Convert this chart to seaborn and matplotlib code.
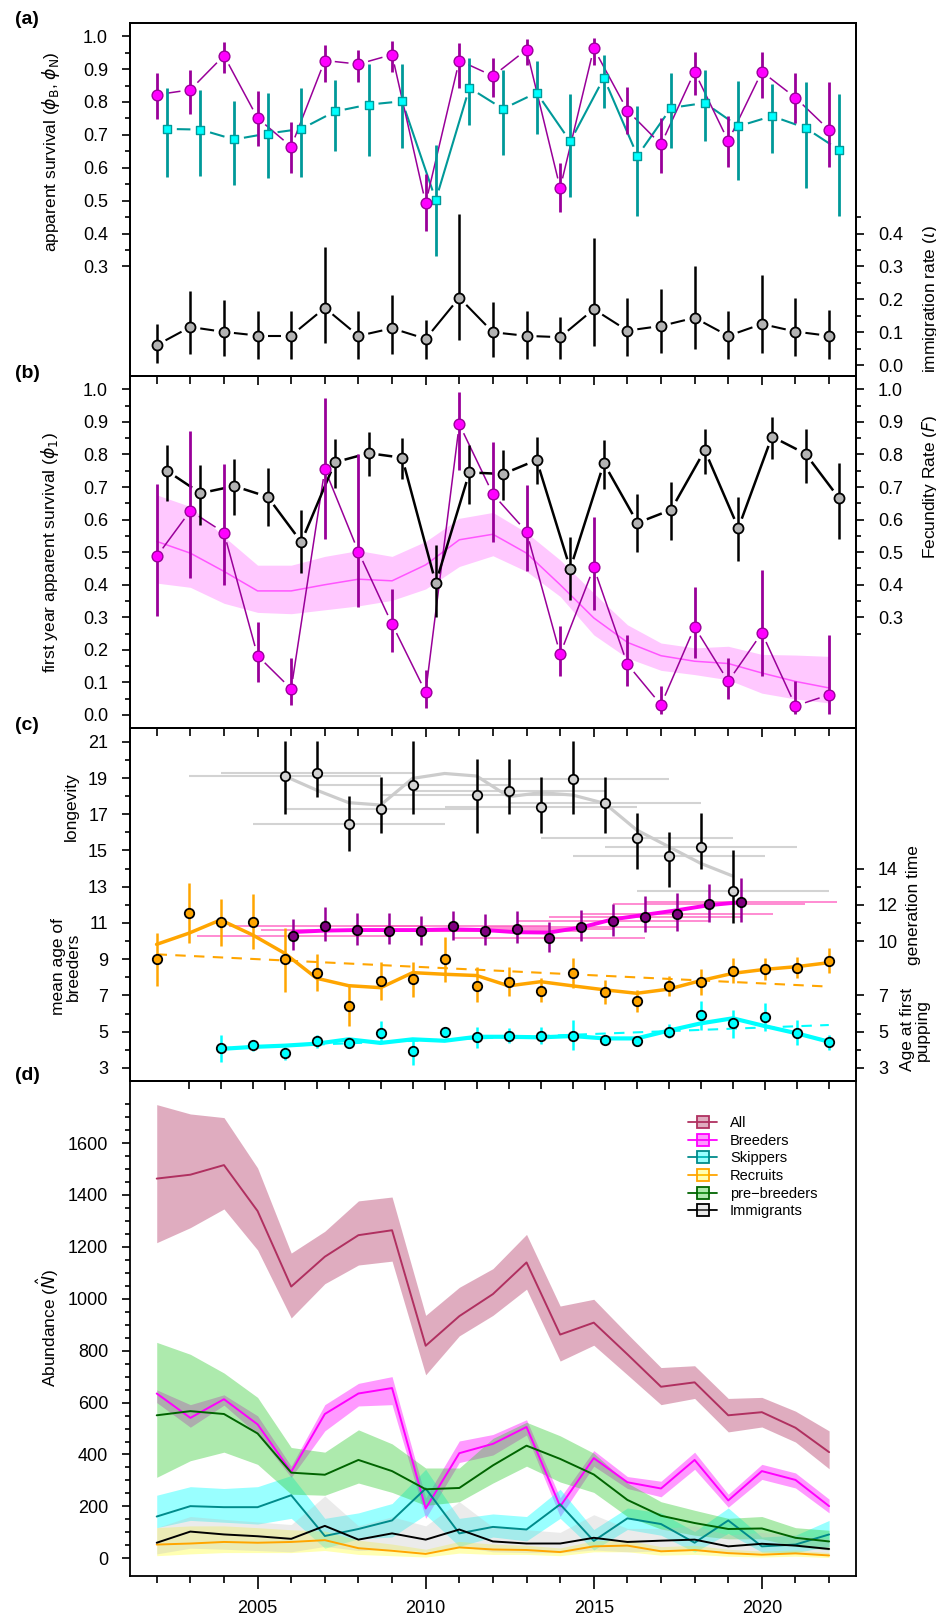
import numpy as np
import matplotlib
matplotlib.use("Agg")
import matplotlib.pyplot as plt
import matplotlib.transforms as mtransforms
from matplotlib.lines import Line2D
from matplotlib.ticker import FixedLocator
import seaborn as sns

# ---------------- data ----------------
years = np.arange(2002, 2023)
years_off = years + 0.3

# (a) apparent survival of breeders / non-breeders and immigration rate
phiB = [0.822, 0.837, 0.941, 0.751, 0.664, 0.926, 0.915, 0.944, 0.492, 0.926, 0.879,
        0.959, 0.538, 0.963, 0.774, 0.671, 0.892, 0.681, 0.892, 0.813, 0.715]
phiB_lo = [0.748, 0.763, 0.888, 0.667, 0.583, 0.862, 0.860, 0.891, 0.407, 0.843, 0.814,
           0.911, 0.465, 0.911, 0.702, 0.583, 0.822, 0.603, 0.813, 0.736, 0.601]
phiB_hi = [0.888, 0.898, 0.981, 0.832, 0.740, 0.972, 0.959, 0.985, 0.580, 0.980, 0.935,
           0.990, 0.614, 0.993, 0.845, 0.751, 0.951, 0.758, 0.953, 0.888, 0.860]
phiN = [0.718, 0.716, 0.686, 0.704, 0.718, 0.771, 0.792, 0.802, 0.502, 0.843, 0.779,
        0.828, 0.680, 0.873, 0.636, 0.782, 0.797, 0.726, 0.757, 0.721, 0.654]
phiN_lo = [0.572, 0.575, 0.549, 0.570, 0.572, 0.651, 0.635, 0.660, 0.333, 0.730, 0.638,
           0.702, 0.511, 0.782, 0.453, 0.660, 0.680, 0.562, 0.644, 0.539, 0.453]
phiN_hi = [0.843, 0.835, 0.804, 0.827, 0.843, 0.867, 0.914, 0.914, 0.670, 0.935, 0.896,
           0.926, 0.824, 0.944, 0.789, 0.888, 0.896, 0.865, 0.855, 0.860, 0.823]
imm = [0.061, 0.116, 0.101, 0.090, 0.090, 0.174, 0.089, 0.112, 0.080, 0.205, 0.100,
       0.089, 0.085, 0.170, 0.105, 0.119, 0.144, 0.089, 0.125, 0.102, 0.089]
imm_lo = [0.005, 0.034, 0.027, 0.020, 0.020, 0.068, 0.020, 0.034, 0.020, 0.075, 0.024,
          0.020, 0.020, 0.059, 0.029, 0.037, 0.049, 0.020, 0.037, 0.029, 0.020]
imm_hi = [0.124, 0.225, 0.198, 0.165, 0.165, 0.358, 0.165, 0.213, 0.136, 0.459, 0.192,
          0.165, 0.146, 0.385, 0.203, 0.230, 0.302, 0.164, 0.274, 0.205, 0.169]

# (b) first year survival and fecundity
phi1 = [0.487, 0.627, 0.560, 0.182, 0.080, 0.755, 0.501, 0.279, 0.070, 0.893, 0.678,
        0.563, 0.187, 0.453, 0.156, 0.031, 0.270, 0.103, 0.252, 0.028, 0.062]
phi1_lo = [0.305, 0.420, 0.398, 0.100, 0.030, 0.540, 0.333, 0.192, 0.020, 0.753, 0.530,
           0.441, 0.119, 0.321, 0.090, 0.003, 0.175, 0.049, 0.119, 0.002, 0.002]
phi1_hi = [0.709, 0.873, 0.771, 0.287, 0.175, 0.972, 0.802, 0.387, 0.139, 0.993, 0.838,
           0.707, 0.272, 0.607, 0.246, 0.088, 0.394, 0.175, 0.446, 0.105, 0.246]
phi1_trend = [0.533, 0.497, 0.441, 0.381, 0.381, 0.400, 0.417, 0.412, 0.461, 0.538, 0.555,
              0.497, 0.400, 0.298, 0.223, 0.182, 0.165, 0.158, 0.129, 0.103, 0.083]
phi1_trend_lo = [0.405, 0.392, 0.343, 0.315, 0.311, 0.323, 0.335, 0.352, 0.387, 0.456, 0.489,
                 0.441, 0.364, 0.246, 0.175, 0.137, 0.124, 0.108, 0.067, 0.049, 0.037]
phi1_trend_hi = [0.676, 0.640, 0.548, 0.460, 0.460, 0.487, 0.505, 0.487, 0.533, 0.604, 0.622,
                 0.560, 0.476, 0.374, 0.277, 0.221, 0.206, 0.211, 0.186, 0.184, 0.180]
fec = [0.750, 0.681, 0.703, 0.670, 0.531, 0.776, 0.804, 0.790, 0.405, 0.745, 0.740,
       0.783, 0.449, 0.773, 0.590, 0.630, 0.813, 0.574, 0.855, 0.802, 0.665]
fec_lo = [0.658, 0.582, 0.615, 0.581, 0.436, 0.696, 0.734, 0.724, 0.300, 0.648, 0.661,
          0.710, 0.354, 0.693, 0.500, 0.537, 0.740, 0.473, 0.785, 0.712, 0.540]
fec_hi = [0.829, 0.767, 0.785, 0.760, 0.628, 0.848, 0.868, 0.852, 0.522, 0.829, 0.813,
          0.853, 0.546, 0.843, 0.678, 0.716, 0.877, 0.669, 0.915, 0.878, 0.773]

# (c) life-history traits (own year axis)
long_years = [2005, 2006, 2007, 2008, 2009, 2011, 2012, 2013, 2014, 2015, 2016, 2017, 2018, 2019]
longev = [19.11, 19.27, 16.44, 17.27, 18.63, 18.06, 18.30, 17.42, 18.94, 17.64, 15.67, 14.71, 15.17, 12.76]
longev_lo = [16.99, 17.93, 14.97, 15.98, 16.99, 15.98, 16.99, 15.98, 16.99, 15.98, 13.98, 12.97, 13.98, 10.98]
longev_hi = [21.04, 21.04, 18.02, 19.03, 21.04, 20.03, 20.03, 19.03, 21.04, 19.03, 17.05, 16.04, 17.05, 15.03]
longev_xerr = [3, 3, 3, 3, 3, 3, 3, 3, 3, 3, 3, 3, 3, 3]
long_smooth_years = np.arange(2005, 2020)
longev_smooth = [19.11, 18.33, 17.64, 17.51, 18.98, 19.25, 19.11, 17.97, 18.19, 18.06,
                 17.60, 16.13, 15.21, 14.29, 13.59]

gen_years = np.arange(2005, 2020) + 0.25
gen = [10.30, 10.83, 10.61, 10.58, 10.56, 10.83, 10.58, 10.67, 10.15, 10.78, 11.13, 11.33,
       11.48, 12.05, 12.16]
gen_lo = [9.51, 10.03, 9.79, 9.82, 9.79, 10.06, 9.79, 9.92, 9.42, 10.03, 10.30, 10.49,
          10.56, 11.04, 11.07]
gen_hi = [11.22, 11.86, 11.53, 11.53, 11.40, 11.68, 11.48, 11.66, 11.04, 11.72, 12.05, 12.49,
          12.64, 13.13, 13.46]
gen_xerr = [3, 3, 3, 3, 3, 3, 3, 3, 3, 3, 3, 3, 3, 3, 3]
gen_smooth = [10.50, 10.58, 10.61, 10.61, 10.61, 10.65, 10.61, 10.49, 10.47, 10.75, 11.20,
              11.45, 11.70, 11.98, 12.15]

age_years = np.arange(2001, 2023)
age_br = [9.00, 11.53, 11.04, 11.07, 9.00, 8.26, 6.44, 7.80, 7.89, 9.00, 7.53, 7.76, 7.27,
          8.26, 7.18, 6.70, 7.53, 7.73, 8.35, 8.44, 8.54, 8.92]
age_br_lo = [7.54, 9.88, 9.73, 9.55, 7.21, 7.25, 5.34, 6.75, 6.94, 7.76, 6.66, 6.97, 6.66,
             7.43, 6.53, 6.11, 6.97, 7.03, 7.67, 7.86, 7.95, 8.22]
age_br_hi = [10.43, 13.19, 12.31, 12.60, 10.74, 9.27, 7.53, 8.87, 8.87, 10.21, 8.59, 8.59,
             7.95, 9.09, 7.86, 7.31, 8.07, 8.44, 9.05, 9.05, 9.14, 9.64]
age_br_smooth = [9.82, 10.43, 11.17, 10.34, 9.33, 7.95, 7.54, 7.43, 8.26, 8.17, 8.10, 7.53,
                 7.76, 7.53, 7.31, 7.12, 7.35, 7.82, 8.22, 8.44, 8.59, 8.81]
age_br_trend_x = [2001, 2022]
age_br_trend = [9.27, 7.49]

afp_years = np.arange(2003, 2023)
afp = [4.10, 4.25, 3.83, 4.50, 4.35, 4.92, 3.93, 5.01, 4.69, 4.78, 4.78, 4.78, 4.54, 4.49,
       5.00, 5.92, 5.46, 5.83, 4.94, 4.45]
afp_lo = [3.35, 3.95, 3.44, 4.08, 4.10, 4.35, 3.17, 4.85, 4.08, 4.36, 4.33, 4.00, 4.30, 4.30,
          4.63, 5.09, 4.67, 5.06, 4.26, 4.00]
afp_hi = [4.82, 4.50, 4.18, 4.82, 4.60, 5.61, 4.65, 5.20, 5.24, 5.18, 5.24, 5.64, 4.80, 4.70,
          5.40, 6.69, 6.20, 6.57, 5.64, 4.82]
afp_smooth = [4.05, 4.16, 4.23, 4.34, 4.58, 4.38, 4.58, 4.50, 4.72, 4.72, 4.69, 4.76, 4.63,
              4.63, 5.06, 5.46, 5.74, 5.31, 4.91, 4.45]
afp_trend_x = [2003, 2022]
afp_trend = [4.09, 5.37]

# (d) abundance by class
all_N = [1463, 1478, 1515, 1338, 1047, 1162, 1245, 1264, 819, 933, 1018, 1140, 862, 908,
         786, 661, 678, 551, 563, 503, 409]
all_lo = [1216, 1274, 1346, 1188, 926, 1058, 1130, 1145, 707, 857, 936, 1037, 760, 821,
          707, 592, 616, 487, 506, 448, 345]
all_hi = [1748, 1712, 1698, 1504, 1176, 1260, 1377, 1392, 936, 1044, 1116, 1248, 972, 998,
          865, 735, 742, 616, 620, 567, 491]
br_N = [635, 541, 613, 516, 333, 556, 635, 656, 192, 405, 441, 506, 200, 386, 293, 269,
        379, 223, 336, 302, 201]
br_lo = [600, 505, 590, 477, 312, 491, 587, 592, 154, 369, 398, 475, 161, 355, 269, 237,
         343, 197, 304, 271, 175]
br_hi = [649, 592, 630, 549, 355, 592, 674, 700, 233, 452, 477, 534, 233, 415, 315, 297,
         409, 247, 362, 329, 228]
sk_N = [161, 201, 197, 197, 243, 86, 113, 146, 269, 96, 121, 111, 208, 67, 154, 132, 60,
        146, 46, 53, 92]
sk_lo = [118, 146, 139, 132, 154, 39, 75, 82, 168, 46, 82, 67, 154, 32, 111, 89, 24, 96,
         24, 22, 46]
sk_hi = [243, 276, 269, 276, 319, 154, 175, 211, 343, 154, 171, 161, 266, 111, 194, 175,
         103, 194, 82, 89, 146]
rec_N = [53, 57, 63, 60, 63, 70, 39, 29, 17, 42, 34, 32, 24, 46, 49, 27, 32, 20, 14, 19, 11]
rec_lo = [10, 17, 22, 22, 22, 30, 15, 10, 5, 20, 15, 15, 10, 25, 25, 12, 15, 8, 5, 8, 3]
rec_hi = [118, 125, 125, 118, 110, 105, 70, 55, 35, 65, 55, 50, 40, 68, 70, 45, 50, 35,
          28, 32, 22]
pb_N = [551, 567, 556, 481, 330, 322, 379, 336, 266, 271, 358, 434, 383, 323, 225, 164,
        136, 113, 115, 79, 65]
pb_lo = [312, 376, 409, 362, 247, 243, 290, 254, 204, 218, 290, 355, 294, 254, 161, 113,
         89, 75, 75, 46, 32]
pb_hi = [832, 786, 714, 620, 427, 409, 495, 441, 348, 348, 462, 524, 472, 405, 290, 218,
         185, 154, 161, 118, 108]
immN = [60, 103, 92, 85, 75, 125, 72, 96, 72, 111, 65, 57, 57, 79, 63, 68, 72, 46, 56, 49, 36]
immN_lo = [17, 39, 35, 30, 25, 46, 30, 35, 25, 46, 25, 22, 22, 32, 25, 28, 30, 18, 22, 20, 15]
immN_hi = [118, 161, 150, 140, 130, 240, 125, 160, 125, 218, 120, 110, 100, 168, 115, 115,
           125, 90, 100, 90, 75]

classes = ["All", "Breeders", "Skippers", "Recruits", "pre\u2212breeders", "Immigrants"]
class_line = ["#B03060", "#FF00FF", "#008B8B", "#FFA500", "#006400", "#000000"]
class_band = [(0.69, 0.19, 0.38, 0.40), (1.0, 0.0, 1.0, 0.40), (0.0, 1.0, 1.0, 0.40),
              (1.0, 1.0, 0.0, 0.30), (0.196, 0.80, 0.196, 0.40), (0.745, 0.745, 0.745, 0.30)]

# ---------------- style ----------------
sns.set_theme(style="ticks")
plt.rcParams['font.family'] = ['Liberation Sans', 'DejaVu Sans']
plt.rcParams['mathtext.fontset'] = 'dejavusans'
plt.rcParams['axes.edgecolor'] = 'black'
plt.rcParams['axes.linewidth'] = 1.3
plt.rcParams['xtick.color'] = 'black'
plt.rcParams['ytick.color'] = 'black'
plt.rcParams['text.color'] = 'black'

W, H = 937, 1621
fig = plt.figure(figsize=(W / 100, H / 100), dpi=100, facecolor='white')


def box(top, bottom):
    return [130 / W, 1 - bottom / H, 726 / W, (bottom - top) / H]


axA = fig.add_axes(box(23, 376))
axB = fig.add_axes(box(376, 728))
axC = fig.add_axes(box(728, 1081))
axD = fig.add_axes(box(1081, 1575.7))
for ax in (axA, axB, axC, axD):
    ax.set_facecolor('none')
    for s in ax.spines.values():
        s.set_visible(True)
        s.set_linewidth(1.3)

axA.set_xlim(2001.205, 2022.80)
axB.set_xlim(2001.205, 2022.80)
axD.set_xlim(2001.205, 2022.80)
axC.set_xlim(2000.17, 2022.85)
axA.set_ylim(-0.033, 1.04)
axB.set_ylim(-0.04, 1.041)
axC.set_ylim(2.28, 21.76)
axD.set_ylim(-67, 1839)


def yticks(ax, major, minor, fmt):
    ax.yaxis.set_major_locator(FixedLocator(major))
    ax.yaxis.set_minor_locator(FixedLocator(minor))
    ax.set_yticklabels([fmt.format(v) for v in major])
    ax.tick_params(axis='y', which='major', length=5.8, width=1.2, pad=10, labelsize=13,
                   direction='out')
    ax.tick_params(axis='y', which='minor', length=3.6, width=1.2, direction='out')


def right_axis(ax, major, minor, fmt):
    tw = ax.twinx()
    tw.set_ylim(ax.get_ylim())
    tw.set_facecolor('none')
    yticks(tw, major, minor, fmt)
    return tw


def xticks(ax, major, minor, labels=False, big=6.7, small=5.5):
    ax.xaxis.set_major_locator(FixedLocator(major))
    ax.xaxis.set_minor_locator(FixedLocator(minor))
    if labels:
        ax.set_xticklabels([str(v) for v in major])
    else:
        ax.set_xticklabels([])
    ax.tick_params(axis='x', which='major', length=big, width=1.2, pad=8, labelsize=13,
                   direction='out')
    ax.tick_params(axis='x', which='minor', length=small, width=1.2, direction='out')


five = [2005, 2010, 2015, 2020]
others = [y for y in range(2002, 2023) if y % 5 != 0]
xticks(axA, five, others)
xticks(axB, five, others)
xticks(axC, five, others)
xticks(axD, five, others, labels=True, big=9.4, small=5.0)

yticks(axA, np.arange(0.3, 1.01, 0.1), np.arange(0.35, 1.0, 0.1), "{:.1f}")
right_axis(axA, np.arange(0.0, 0.41, 0.1), np.arange(0.05, 0.46, 0.1), "{:.1f}")
yticks(axB, np.arange(0.0, 1.01, 0.1), np.arange(0.05, 1.0, 0.1), "{:.1f}")
right_axis(axB, np.arange(0.3, 1.01, 0.1), np.arange(0.25, 1.0, 0.1), "{:.1f}")
yticks(axC, np.arange(3, 22, 2), np.arange(4, 21, 2), "{:d}")
right_axis(axC, [3, 5, 7, 10, 12, 14], [4, 6, 11, 13], "{:d}")
yticks(axD, np.arange(0, 1601, 200), np.arange(50, 1751, 50), "{:d}")


def gap_line(ax, x, y, gap=10, **kw):
    # R type="b" look: each segment stops short of the points
    pts = ax.transData.transform(np.column_stack([x, y]))
    inv = ax.transData.inverted()
    for p0, p1 in zip(pts[:-1], pts[1:]):
        d = p1 - p0
        n = np.hypot(d[0], d[1])
        if n <= 2 * gap + 1:
            continue
        u = d / n
        seg = inv.transform(np.array([p0 + u * gap, p1 - u * gap]))
        ax.plot(seg[:, 0], seg[:, 1], solid_capstyle='butt', **kw)


def points(ax, x, y, s, fill, edge, marker='o', lw=1.0, z=5):
    sns.scatterplot(x=np.asarray(x, float), y=np.asarray(y, float), ax=ax, s=s, marker=marker,
                    color=fill, edgecolor=edge, linewidth=lw, zorder=z, legend=False)


# ---------------- (a) ----------------
gap_line(axA, years_off, phiN, color='#009999', lw=1.5)
gap_line(axA, years, phiB, color='#990099', lw=1.1)
gap_line(axA, years, imm, color='black', lw=1.5)
axA.vlines(years_off, phiN_lo, phiN_hi, color='#009999', lw=2.0)
axA.vlines(years, phiB_lo, phiB_hi, color='#990099', lw=2.0)
axA.vlines(years, imm_lo, imm_hi, color='black', lw=1.8)
points(axA, years_off, phiN, 34, '#00FFFF', '#009999', marker='s', lw=1.0)
points(axA, years, phiB, 60, '#FF00FF', '#990099', lw=1.0)
points(axA, years, imm, 52, '#B3B3B3', 'black', lw=1.3)

# ---------------- (b) ----------------
axB.fill_between(years, phi1_trend_lo, phi1_trend_hi, color='#FFC8FF', lw=0)
sns.lineplot(x=years, y=phi1_trend, ax=axB, color='#FF55FF', lw=1.1)
gap_line(axB, years, phi1, color='#990099', lw=1.1)
gap_line(axB, years_off, fec, color='black', lw=1.8)
axB.vlines(years, phi1_lo, phi1_hi, color='#990099', lw=2.0)
axB.vlines(years_off, fec_lo, fec_hi, color='black', lw=1.8)
points(axB, years, phi1, 60, '#FF00FF', '#990099', lw=1.0)
points(axB, years_off, fec, 52, '#B3B3B3', 'black', lw=1.3)

# ---------------- (c) ----------------
lx = np.array(long_years, float)
axC.hlines(longev, lx - np.array(longev_xerr), lx + np.array(longev_xerr), color='#D3D3D3', lw=1.5)
sns.lineplot(x=long_smooth_years, y=longev_smooth, ax=axC, color='#CCCCCC', lw=2.3)
axC.hlines(gen, gen_years - np.array(gen_xerr), gen_years + np.array(gen_xerr),
           color=(1.0, 0.35, 0.75, 0.75), lw=1.3)
sns.lineplot(x=gen_years, y=gen_smooth, ax=axC, color='#FF00EE', lw=2.8)
axC.plot(age_br_trend_x, age_br_trend, color='#FFA500', lw=1.5, ls=(0, (5, 4)))
sns.lineplot(x=age_years, y=age_br_smooth, ax=axC, color='#FFA500', lw=2.5)
axC.plot(afp_trend_x, afp_trend, color='#00FFFF', lw=1.5, ls=(0, (5, 4)))
sns.lineplot(x=afp_years, y=afp_smooth, ax=axC, color='#00FFFF', lw=3.0)
axC.vlines(long_years, longev_lo, longev_hi, color='black', lw=1.8)
axC.vlines(gen_years, gen_lo, gen_hi, color='#990099', lw=1.8)
axC.vlines(age_years, age_br_lo, age_br_hi, color='#FFA500', lw=1.8)
axC.vlines(afp_years, afp_lo, afp_hi, color='#00FFFF', lw=1.8)
points(axC, long_years, longev, 46, '#D3D3D3', 'black', lw=1.3)
points(axC, gen_years, gen, 46, '#800080', 'black', lw=1.3)
points(axC, age_years, age_br, 46, '#FFA500', 'black', lw=1.3)
points(axC, afp_years, afp, 46, '#00FFFF', 'black', lw=1.3)

# ---------------- (d) ----------------
series = [(all_N, all_lo, all_hi), (br_N, br_lo, br_hi), (sk_N, sk_lo, sk_hi),
          (rec_N, rec_lo, rec_hi), (pb_N, pb_lo, pb_hi), (immN, immN_lo, immN_hi)]
for (mid, lo, hi), band in zip(series, class_band):
    axD.fill_between(years, lo, hi, color=band, lw=0)
for (mid, lo, hi), col in zip(series, class_line):
    sns.lineplot(x=years, y=mid, ax=axD, color=col, lw=1.4)
handles = [Line2D([0], [0], color=c, lw=1.3, marker='s', markersize=8.7, markerfacecolor=b,
                  markeredgecolor=c, markeredgewidth=1.3) for c, b in zip(class_line, class_band)]
axD.legend(handles, classes, loc='upper left', bbox_to_anchor=(0.769, 0.929), frameon=False,
           fontsize=10.5, handlelength=2.0, handletextpad=0.85, labelspacing=0.25,
           borderpad=0, borderaxespad=0)
for ax in (axA, axB, axC, axD):
    ax.set_xlabel("")
    ax.set_ylabel("")


# ---------------- labels ----------------
def side_label(ax, xfrac, yval, text, size=12.5):
    tr = mtransforms.blended_transform_factory(ax.transAxes, ax.transData)
    ax.text(xfrac, yval, text, transform=tr, rotation=90, ha='center', va='center',
            fontsize=size, linespacing=1.0, clip_on=False)


side_label(axA, -0.109, 0.65, r"apparent survival ($\phi_\mathrm{B}$, $\phi_\mathrm{N}$)")
side_label(axA, 1.102, 0.20, r"immigration rate ($\iota$)")
side_label(axB, -0.110, 0.50, r"first year apparent survival ($\phi_1$)")
side_label(axB, 1.102, 0.70, r"Fecundity Rate ($F$)")
side_label(axC, -0.081, 17.4, "longevity")
side_label(axC, -0.088, 8.6, "mean age of\nbreeders")
side_label(axC, 1.079, 12.0, "generation time")
side_label(axC, 1.081, 5.1, "Age at first\npupping")
side_label(axD, -0.113, 887, r"Abundance ($\hat{N}$)")

for lab, ypx in zip(["(a)", "(b)", "(c)", "(d)"], [20, 373, 725, 1075]):
    fig.text(27 / W, 1 - ypx / H, lab, fontsize=14, fontweight='bold', ha='center', va='center')

fig.savefig("out.png", dpi=100, facecolor='white')
